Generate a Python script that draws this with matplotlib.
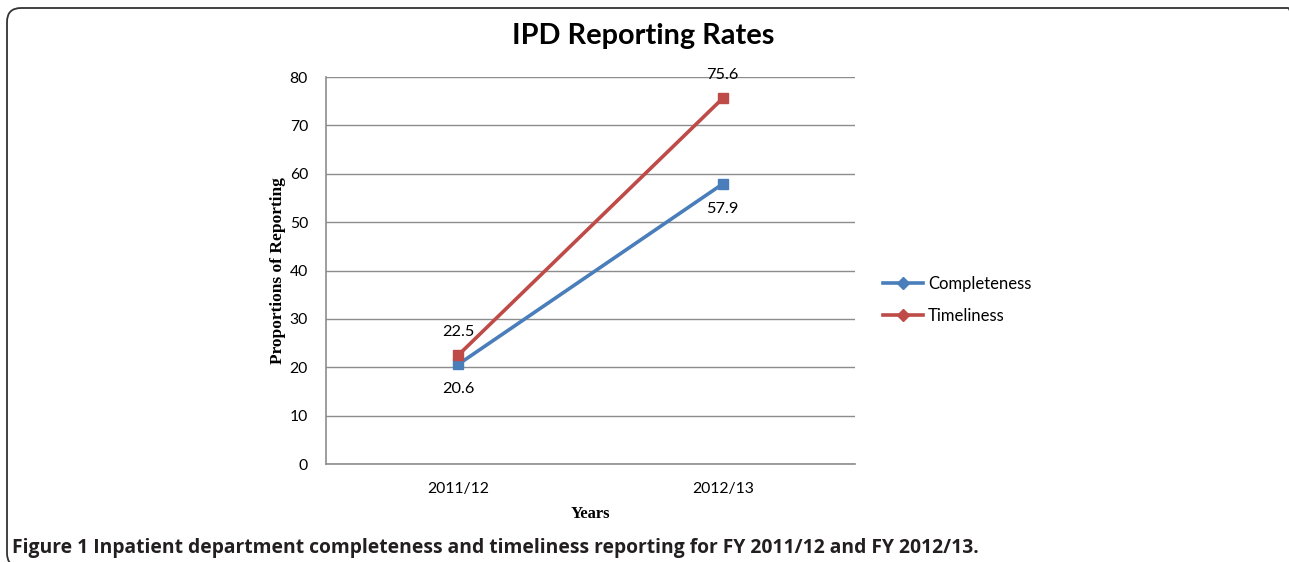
import matplotlib
matplotlib.use('Agg')
import matplotlib.pyplot as plt
from matplotlib.patches import FancyBboxPatch
from matplotlib.lines import Line2D

years = ['2011/12', '2012/13']
completeness = [20.6, 57.9]
timeliness = [22.5, 75.6]
yticks = [0, 10, 20, 30, 40, 50, 60, 70, 80]

blue = '#4A7EBB'
red = '#BE4B48'
grid_gray = '#8C8C8C'
sans = ['Lato', 'DejaVu Sans']
serif = ['Liberation Serif', 'DejaVu Serif']

fig = plt.figure(figsize=(12.89, 5.62), dpi=100)
ax = fig.add_axes([326 / 1289, 1 - 464 / 562, 529 / 1289, 387 / 562])

x = list(range(len(years)))
ax.plot(x, completeness, color=blue, lw=2.6, marker='s', ms=6.5, label='Completeness')
ax.plot(x, timeliness, color=red, lw=2.6, marker='s', ms=6.5, label='Timeliness')

# data labels
for i, v in enumerate(timeliness):
    ax.annotate(str(v), (i, v), xytext=(0, 17), textcoords='offset points',
                ha='center', va='center', fontsize=11.8, family=sans)
for i, v in enumerate(completeness):
    ax.annotate(str(v), (i, v), xytext=(0, -18), textcoords='offset points',
                ha='center', va='center', fontsize=11.8, family=sans)

ax.set_xlim(-0.5, 1.5)
ax.set_ylim(0, 80)
ax.set_yticks(yticks)
ax.set_xticks(x)
ax.set_xticklabels(years)
ax.tick_params(axis='both', length=0, labelsize=11.3, pad=13)
for lab in ax.get_xticklabels() + ax.get_yticklabels():
    lab.set_family(sans)
ax.yaxis.grid(True, color=grid_gray, lw=1)
ax.set_axisbelow(True)
for s in ['top', 'right']:
    ax.spines[s].set_visible(False)
for s in ['left', 'bottom']:
    ax.spines[s].set_color(grid_gray)
    ax.spines[s].set_linewidth(1.2)

ax.set_ylabel('Proportions of Reporting', family=serif, fontweight='bold', fontsize=12.5, labelpad=3)
ax.set_xlabel('Years', family=serif, fontweight='bold', fontsize=12, labelpad=7)

handles = [Line2D([], [], color=blue, lw=2.6, marker='D', ms=6),
           Line2D([], [], color=red, lw=2.6, marker='D', ms=6)]
fig.legend(handles, ['Completeness', 'Timeliness'], loc='center left',
           bbox_to_anchor=(868 / 1289, 1 - 300 / 562), frameon=False,
           prop={'family': sans, 'size': 12}, handlelength=2.4, labelspacing=1.0,
           handletextpad=0.3)

fig.text(643 / 1289, 1 - 36 / 562, 'IPD Reporting Rates', ha='center', va='center',
         fontsize=20.8, fontweight='bold', family=sans)

fig.text(12 / 1289, 1 - 548 / 562,
         'Figure 1 Inpatient department completeness and timeliness reporting for FY 2011/12 and FY 2012/13.',
         ha='left', va='center', fontsize=13.9, fontweight='bold',
         family=['Open Sans', 'DejaVu Sans'], color='#231F20')

# rounded border around the figure panel
box = FancyBboxPatch((0.07, -0.05), 12.95, 5.59,
                     boxstyle='round,pad=0,rounding_size=0.14',
                     transform=fig.dpi_scale_trans, fill=False,
                     edgecolor='#333333', lw=1.3)
fig.patches.append(box)

fig.savefig('out.png', dpi=100)
